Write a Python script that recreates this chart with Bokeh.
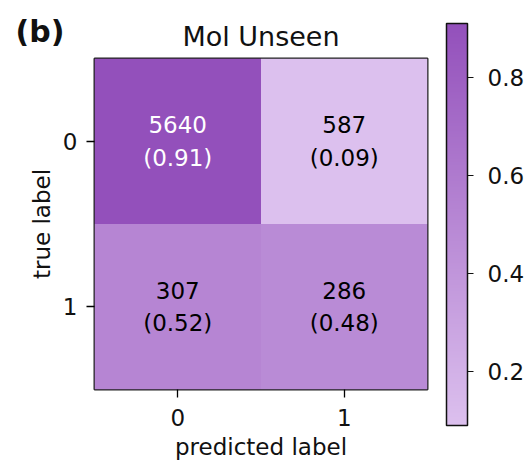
from bokeh.plotting import figure
from bokeh.models import (ColumnDataSource, LinearColorMapper, ColorBar, FixedTicker,
                          Range1d, Label, Title)
from bokeh.embed import file_html
from bokeh.resources import INLINE
from bokeh.core.properties import value

# ---- data ----
true_labels = [0, 0, 1, 1]
pred_labels = [0, 1, 0, 1]
counts = [5640, 587, 307, 286]
fractions = [0.91, 0.09, 0.52, 0.48]
tick_labels = ["0", "1"]
cbar_ticks = [0.2, 0.4, 0.6, 0.8]

FONT = "DejaVu Sans"

def lerp_hex(c1, c2, n):
    a = [int(c1[i:i+2], 16) for i in (1, 3, 5)]
    b = [int(c2[i:i+2], 16) for i in (1, 3, 5)]
    out = []
    for k in range(n):
        t = k / (n - 1)
        out.append("#%02x%02x%02x" % tuple(round(a[j] + (b[j] - a[j]) * t) for j in range(3)))
    return out

palette = lerp_hex("#dcc0ee", "#9350bb", 256)
mapper = LinearColorMapper(palette=palette, low=min(fractions), high=max(fractions))

thr = (max(counts) + min(counts)) / 2
texts = ["%d\n(%.2f)" % (c, f) for c, f in zip(counts, fractions)]
text_colors = ["white" if c > thr else "black" for c in counts]

src = ColumnDataSource(dict(x=pred_labels, y=true_labels, frac=fractions,
                            txt=texts, tcol=text_colors))

p = figure(width=529, height=465, output_backend="svg", toolbar_location=None,
           x_range=Range1d(-0.5, 1.5), y_range=Range1d(1.5, -0.5),
           min_border_left=94, min_border_right=102, min_border_top=58,
           min_border_bottom=76)
p.background_fill_color = "white"
p.border_fill_color = "white"
p.grid.visible = False
p.outline_line_color = "#222222"
p.outline_line_width = 2

p.rect(x="x", y="y", width=1, height=1, source=src,
       fill_color={"field": "frac", "transform": mapper}, line_color=None)
p.text(x="x", y="y", text="txt", source=src, text_color="tcol",
       text_align="center", text_baseline="middle", text_font=value(FONT),
       text_font_size="23px", text_line_height=1.25)

p.title.text = "Mol Unseen"
p.title.align = "center"
p.title.text_font = FONT
p.title.text_font_size = "27px"
p.title.text_font_style = "normal"
p.title.text_color = "#111111"
p.title.standoff = 14

for ax in (p.xaxis[0], p.yaxis[0]):
    ax.ticker = FixedTicker(ticks=[0, 1])
    ax.major_label_overrides = {0: tick_labels[0], 1: tick_labels[1]}
    ax.major_label_text_font = FONT
    ax.major_label_text_font_size = "23px"
    ax.major_label_text_color = "#111111"
    ax.axis_line_color = None
    ax.major_tick_in = 0
    ax.major_tick_out = 8
    ax.major_tick_line_width = 1.3
    ax.minor_tick_line_color = None

p.xaxis.major_label_standoff = 11
p.yaxis.major_label_standoff = 9
p.yaxis.major_label_orientation = "horizontal"

lab_style = dict(text_font=FONT, text_font_size="23px", text_color="#111111",
                 text_font_style="normal", align="center")
p.add_layout(Title(text="predicted label", standoff=7, **lab_style), "below")
p.add_layout(Title(text="true label", standoff=10, **lab_style), "left")

cb = ColorBar(color_mapper=mapper, ticker=FixedTicker(ticks=cbar_ticks),
              width=21, height=402, location=(352, -36), padding=0,
              background_fill_alpha=0, border_line_color=None,
              bar_line_color="#111111", bar_line_width=1.5,
              major_tick_in=0, major_tick_out=6, major_tick_line_color="#111111",
              major_label_text_font=FONT, major_label_text_font_size="23px",
              major_label_text_color="#111111", label_standoff=14)
p.add_layout(cb, "center")

p.add_layout(Label(x=-412, y=358, x_units="screen", y_units="screen", text="(b)",
                   text_font=FONT, text_font_size="30px", text_font_style="bold",
                   text_color="#111111", text_baseline="middle"), "right")

open("out.html", "w").write(file_html(p, INLINE))
